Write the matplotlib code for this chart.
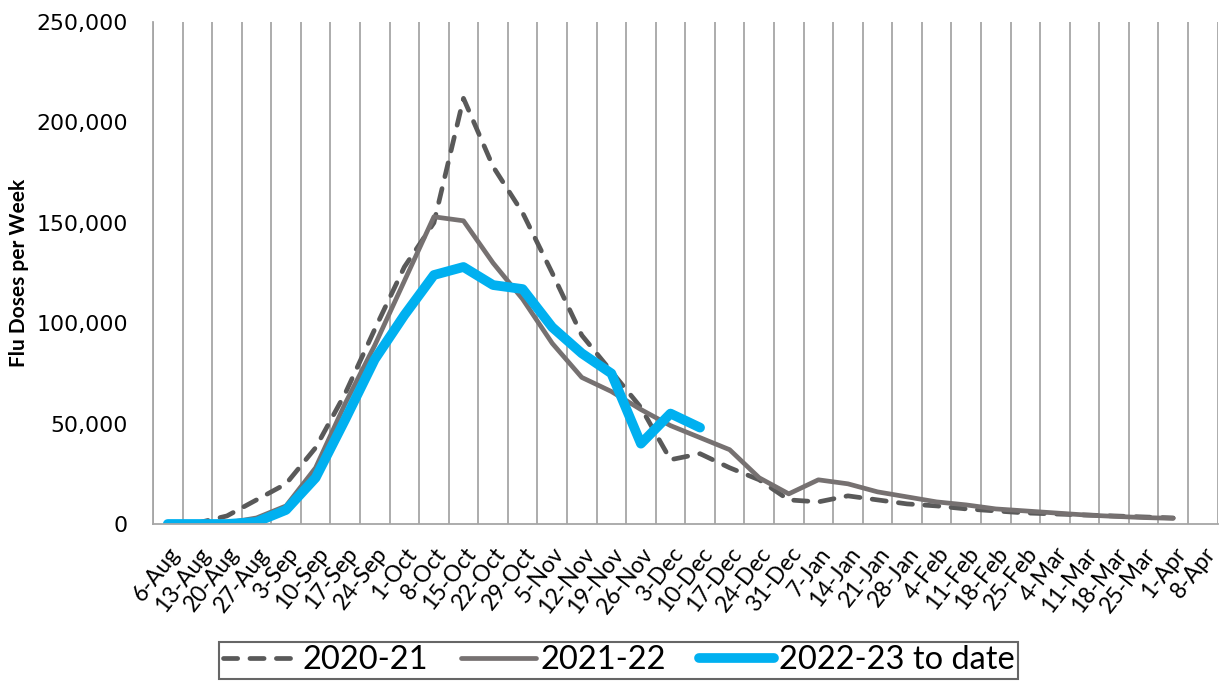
import matplotlib
matplotlib.use("Agg")
import matplotlib.pyplot as plt
import numpy as np
from matplotlib.ticker import FuncFormatter, FixedLocator

# week labels (Sat starting each week)
weeks = ["6-Aug", "13-Aug", "20-Aug", "27-Aug", "3-Sep", "10-Sep", "17-Sep", "24-Sep",
         "1-Oct", "8-Oct", "15-Oct", "22-Oct", "29-Oct", "5-Nov", "12-Nov", "19-Nov",
         "26-Nov", "3-Dec", "10-Dec", "17-Dec", "24-Dec", "31-Dec", "7-Jan", "14-Jan",
         "21-Jan", "28-Jan", "4-Feb", "11-Feb", "18-Feb", "25-Feb", "4-Mar", "11-Mar",
         "18-Mar", "25-Mar", "1-Apr", "8-Apr"]

# doses per week
doses_2020 = [0, 500, 4000, 12000, 20000, 38000, 65000, 97000, 128000, 150000, 212000,
              178000, 155000, 125000, 94000, 76000, 58000, 32000, 35000, 28000, 22000,
              12000, 11000, 14000, 12000, 10000, 9000, 7500, 6500, 5500, 5000, 4500,
              4000, 3500, 3000]
doses_2021 = [0, 0, 500, 3000, 9000, 28000, 60000, 89000, 121000, 153000, 151000,
              130000, 112000, 90000, 73000, 66000, 57000, 49000, 43000, 37000, 23000,
              15000, 22000, 20000, 16000, 13500, 11000, 9500, 7500, 6500, 5500, 4500,
              3800, 3200, 2800]
doses_2022 = [0, 0, 0, 1000, 7000, 23000, 52000, 82000, 104000, 124000, 128000,
              119000, 117000, 98000, 85000, 75000, 40000, 55000, 48000]

labels = ["2020-21", "2021-22", "2022-23 to date"]

fig = plt.figure(figsize=(12.2, 6.82), dpi=100)
ax = fig.add_axes([0.1254, 0.2317, 0.8726, 0.736])

ax.plot(np.arange(len(doses_2020)), doses_2020, color="#595959", lw=3.4,
        dashes=(3.0, 2.6), dash_capstyle="round", solid_capstyle="round", label=labels[0])
ax.plot(np.arange(len(doses_2021)), doses_2021, color="#767171", lw=3.4,
        solid_capstyle="round", label=labels[1])
ax.plot(np.arange(len(doses_2022)), doses_2022, color="#00B0F0", lw=7,
        solid_capstyle="round", solid_joinstyle="round", label=labels[2])

ax.set_xlim(-0.5, len(weeks) - 0.5)
ax.set_ylim(0, 250000)
ax.set_xticks(np.arange(len(weeks)))
ax.set_xticklabels(weeks, rotation=52, ha="right", rotation_mode="anchor",
                   fontsize=16.5, family="Lato")
ax.xaxis.set_minor_locator(FixedLocator(np.arange(len(weeks) + 1) - 0.5))
ax.grid(True, which="minor", axis="x", color="#A6A6A6", lw=1.3)
ax.tick_params(axis="x", which="both", length=0, pad=14)
ax.tick_params(axis="y", length=0, pad=18, labelsize=15.8)
ax.set_yticks(np.arange(0, 250001, 50000))
ax.yaxis.set_major_formatter(FuncFormatter(lambda v, p: f"{int(v):,}"))

for s in ["top", "right"]:
    ax.spines[s].set_visible(False)
for s in ["left", "bottom"]:
    ax.spines[s].set_color("#A6A6A6")
    ax.spines[s].set_linewidth(1.3)

ax.set_ylabel("Flu Doses per Week", fontsize=15, fontweight="bold", family="Lato",
              labelpad=5)

leg = fig.legend(loc="upper center", bbox_to_anchor=(0.507, 0.0585), ncol=3,
                 frameon=True, fancybox=False, edgecolor="#404040",
                 prop={"family": "Lato", "size": 23.5}, handlelength=2.3,
                 handletextpad=0.15, columnspacing=1.0, borderpad=0.1,
                 borderaxespad=0)
leg.get_frame().set_linewidth(1.5)

fig.savefig("out.png", dpi=100)
